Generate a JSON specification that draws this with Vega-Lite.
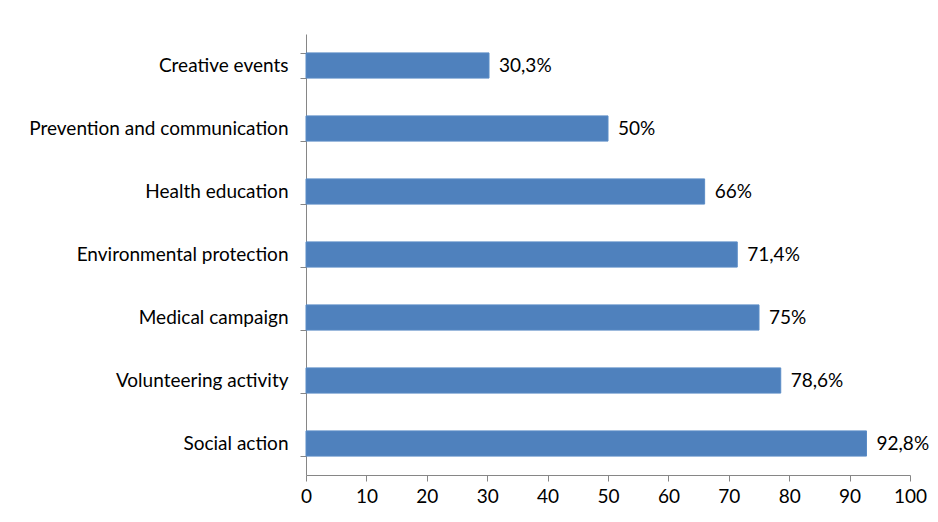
{
  "$schema": "https://vega.github.io/schema/vega-lite/v6.json",
  "width": 604,
  "height": 441,
  "autosize": "none",
  "padding": {"left": 306, "top": 34, "right": 28, "bottom": 47},
  "background": "white",
  "config": {"view": {"stroke": null}, "font": "Lato"},
  "data": {
    "values": [
      {"activity": "Creative events", "value": 30.3, "label": "30,3%"},
      {"activity": "Prevention and communication ", "value": 50, "label": "50%"},
      {"activity": "Health education", "value": 66, "label": "66%"},
      {"activity": "Environmental protection", "value": 71.4, "label": "71,4%"},
      {"activity": "Medical campaign", "value": 75, "label": "75%"},
      {"activity": "Volunteering activity", "value": 78.6, "label": "78,6%"},
      {"activity": "Social action", "value": 92.8, "label": "92,8%"}
    ]
  },
  "encoding": {
    "y": {
      "field": "activity",
      "type": "nominal",
      "sort": null,
      "scale": {"paddingInner": 0.6, "paddingOuter": 0.3},
      "axis": {
        "title": null,
        "tickBand": "extent",
        "domainColor": "#868686",
        "tickColor": "#868686",
        "tickSize": 6,
        "labelPadding": 12,
        "labelFontSize": 19,
        "labelColor": "#000000",
        "labelLimit": 400
      }
    },
    "x": {
      "field": "value",
      "type": "quantitative",
      "scale": {"domain": [0, 100], "nice": false},
      "axis": {
        "title": null,
        "values": [0, 10, 20, 30, 40, 50, 60, 70, 80, 90, 100],
        "grid": false,
        "domainColor": "#868686",
        "tickColor": "#868686",
        "tickSize": 6,
        "labelPadding": 6,
        "labelFontSize": 19,
        "labelColor": "#000000",
        "labelFlush": false
      }
    }
  },
  "layer": [
    {"mark": {"type": "bar", "color": "#4F81BD", "stroke": "#5B8CC6", "strokeWidth": 1}},
    {
      "mark": {"type": "text", "align": "left", "dx": 10, "fontSize": 19, "color": "#000000"},
      "encoding": {"text": {"field": "label"}}
    }
  ]
}
